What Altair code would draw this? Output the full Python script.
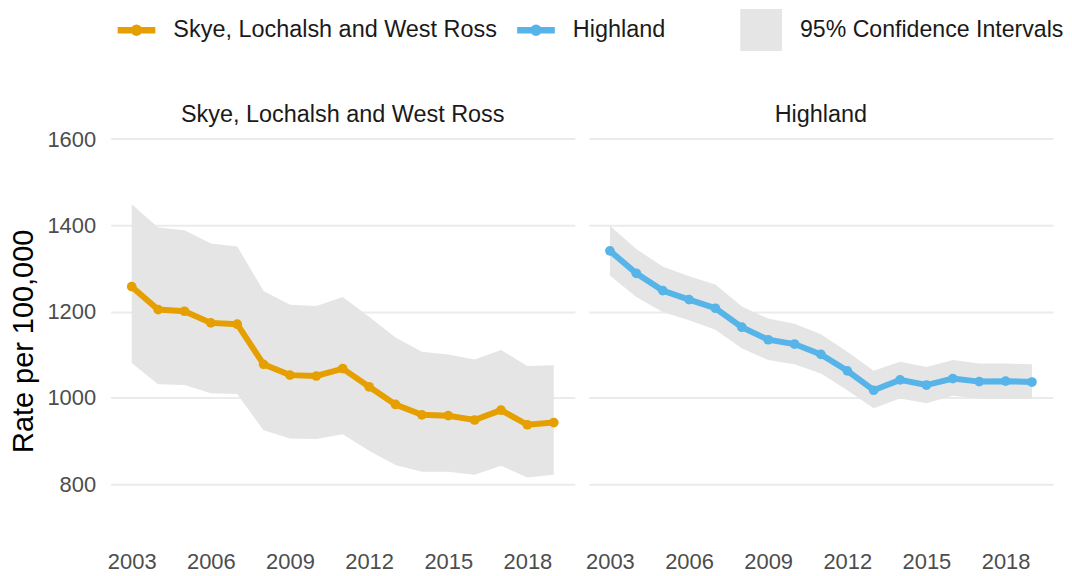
import math
import altair as alt
import pandas as pd

years = list(range(2003, 2020))
areas = ["Skye, Lochalsh and West Ross", "Highland"]
skye_rate = [1258, 1205, 1201, 1174, 1171, 1078, 1053, 1051, 1068, 1026, 985, 961, 959, 949, 972, 938, 943]
skye_lower = [1081, 1032, 1030, 1011, 1009, 925, 906, 905, 916, 878, 845, 829, 829, 822, 843, 816, 822]
skye_upper = [1449, 1395, 1389, 1358, 1351, 1248, 1216, 1213, 1234, 1188, 1140, 1107, 1101, 1089, 1111, 1074, 1076]
high_rate = [1341, 1289, 1249, 1228, 1208, 1164, 1135, 1125, 1101, 1063, 1018, 1042, 1030, 1045, 1038, 1039, 1037]
high_lower = [1284, 1234, 1199, 1180, 1158, 1115, 1088, 1078, 1057, 1018, 976, 999, 988, 1005, 998, 998, 998]
high_upper = [1399, 1345, 1305, 1282, 1263, 1212, 1184, 1172, 1148, 1107, 1063, 1084, 1072, 1088, 1080, 1080, 1078]
ci_label = "95% Confidence Intervals"
line_colors = ["#E69F00", "#56B4E9"]
ci_color = "#E5E5E5"
x_ticks = [2003, 2006, 2009, 2012, 2015, 2018]
y_ticks = [800, 1000, 1200, 1400, 1600]

rows = []
for area, rates, lows, highs in [
    (areas[0], skye_rate, skye_lower, skye_upper),
    (areas[1], high_rate, high_lower, high_upper),
]:
    for yr, r, lo, hi in zip(years, rates, lows, highs):
        rows.append({"area": area, "year": yr, "rate": r,
                     "lower": lo, "upper": hi, "ci": ci_label})
df = pd.DataFrame(rows)

FONT = "Liberation Sans"

# legend glyph: a thick bar with a dot in its middle, as one polygon outline
_r = 0.27   # dot radius (unit symbol coords)
_t = 0.16   # half bar thickness
_a0 = math.asin(_t / _r)
_steps = 10
top_arc = []
for i in range(_steps + 1):
    a = math.pi - _a0 - (math.pi - 2 * _a0) * i / _steps
    top_arc.append((_r * math.cos(a), -_r * math.sin(a)))
bot_arc = [(x, -y) for (x, y) in reversed(top_arc)]
seq = [(-0.9, -_t)] + top_arc + [(0.9, -_t), (0.9, _t)] + bot_arc + [(-0.9, _t)]
line_symbol = "M" + "L".join(f"{x:.3f},{y:.3f}" for x, y in seq) + "Z"

x_enc = alt.X(
    "year:Q",
    scale=alt.Scale(domain=[2002.2, 2019.8], nice=False, zero=False),
    axis=alt.Axis(values=x_ticks, format="d", title=None, grid=False, ticks=False,
                  domain=False, labelFontSize=22, labelColor="#4d4d4d", labelPadding=3,
                  labelFont=FONT),
)
y_scale = alt.Scale(domain=[650, 1615], nice=False, zero=False)
y_axis = alt.Axis(values=y_ticks, format="d", title="Rate per 100,000", titleFontSize=29,
                  titleColor="black", titleFontWeight="normal", titleFont=FONT, labelFont=FONT,
                  labelFontSize=22, labelColor="#4d4d4d", labelPadding=15, ticks=False,
                  domain=False, gridColor="#ebebeb", gridWidth=2, titlePadding=8)

area_layer = alt.Chart().mark_area(opacity=1).encode(
    x=x_enc,
    y=alt.Y("lower:Q", scale=y_scale, axis=y_axis),
    y2="upper:Q",
    fill=alt.Fill("ci:N", scale=alt.Scale(domain=[ci_label], range=[ci_color]),
                  legend=alt.Legend(orient="none", legendX=632, legendY=-124, title=None,
                                    symbolType="square", symbolSize=1764, symbolStrokeWidth=0,
                                    labelFontSize=23.2, labelFont=FONT, labelColor="#1a1a1a",
                                    labelOffset=18, labelLimit=400, direction="horizontal")),
)

line_layer = alt.Chart().mark_line(strokeWidth=6).encode(
    x=x_enc,
    y=alt.Y("rate:Q", scale=y_scale),
    color=alt.Color("area:N", scale=alt.Scale(domain=areas, range=line_colors)),
)

point_layer = alt.Chart().mark_point(filled=True, size=95, opacity=1, strokeWidth=0).encode(
    x=x_enc,
    y=alt.Y("rate:Q", scale=y_scale),
    color=alt.Color("area:N", scale=alt.Scale(domain=areas, range=line_colors),
                    legend=alt.Legend(orient="none", legendX=5, legendY=-124, title=None,
                                      symbolType=line_symbol, symbolSize=1764,
                                      symbolStrokeWidth=0, labelLimit=400,
                                      labelFontSize=23.5, labelFont=FONT, labelColor="#1a1a1a",
                                      labelOffset=16, columnPadding=18,
                                      direction="horizontal")),
)

chart = alt.layer(area_layer, line_layer, point_layer, data=df).properties(
    width=466, height=418
).facet(
    column=alt.Column("area:N", sort=areas,
                      header=alt.Header(title=None, labelFontSize=23.5, labelColor="#1a1a1a",
                                        labelFont=FONT, labelPadding=6)),
    spacing=14,
).resolve_scale(x="shared", y="shared").configure_view(stroke=None).properties(
    padding={"left": 2, "top": 0, "right": 0, "bottom": 5}
)

chart.save("out.html", embed_options={"renderer": "svg", "actions": False})
